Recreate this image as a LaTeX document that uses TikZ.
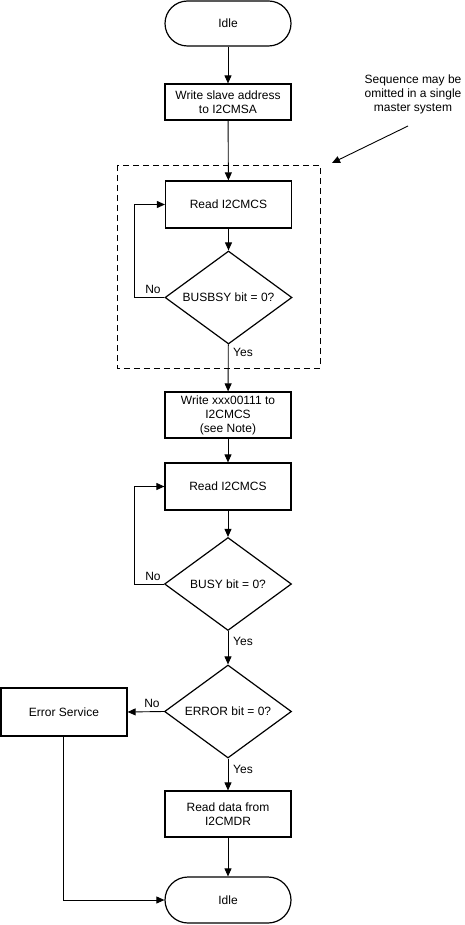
\documentclass[tikz,border=0pt]{standalone}
\usepackage{fontspec}
\setmainfont{Liberation Sans}
\usetikzlibrary{shapes.geometric,arrows.meta}
\begin{document}
\begin{tikzpicture}[x=1pt,y=1pt,
  font=\fontsize{12}{14}\selectfont,
  every node/.style={inner sep=0pt},
  procbox/.style={draw,line width=1.2pt,minimum width=126pt,minimum height=#1,align=center},
  procbox/.default=47pt,
  termbox/.style={draw,line width=1.2pt,rounded corners=22.5pt,minimum width=126pt,minimum height=45pt},
  decbox/.style={draw,line width=1.2pt,diamond,aspect=1.366,minimum width=127pt,minimum height=93pt},
  conn/.style={line width=0.9pt,-{Triangle[length=8pt,width=7pt]}},
  plainline/.style={line width=0.9pt},
  lbl/.style={inner sep=0pt}
]
\useasboundingbox (0,0) rectangle (464,-925);
\node[termbox] (idle1) at (228,-23.5) {Idle};
\node[procbox=36pt] (write1) at (228,-102) {Write slave address\\to I2CMSA};
\node[procbox] (read1) at (228.5,-204.5) {Read I2CMCS};
\node[decbox] (d1) at (228.5,-297.5) {BUSBSY bit = 0?};
\node[procbox=46pt] (write2) at (228,-415) {Write xxx00111 to\\I2CMCS\\(see Note)};
\node[procbox] (read2) at (228,-486.5) {Read I2CMCS};
\node[decbox] (d2) at (228,-584) {BUSY bit = 0?};
\node[decbox] (d3) at (228,-711.5) {ERROR bit = 0?};
\node[procbox=48pt] (err) at (64,-712) {Error Service};
\node[procbox=46pt] (rdata) at (228,-814) {Read data from\\I2CMDR};
\node[termbox,minimum height=46pt,rounded corners=23pt] (idle2) at (228,-900) {Idle};

\draw[dashed,line width=0.9pt,dash pattern=on 6pt off 4pt] (117,-165) rectangle (320,-368);
\node[align=center] (note) at (413,-94) {Sequence may be\\omitted in a single\\master system};
\coordinate (noteA) at (408,-126);
\coordinate (noteB) at (332,-163);
\draw[conn] (noteA) -- (noteB);

\draw[conn] (idle1) -- (write1);
\draw[conn] (write1) -- (read1);
\draw[conn] (read1) -- (d1);
\draw[conn] (d1) -- (write2);
\draw[conn] (write2) -- (read2);
\draw[conn] (read2) -- (d2);
\draw[conn] (d2) -- (d3);
\draw[conn] (d3) -- (rdata);
\draw[conn] (rdata) -- (idle2);
\draw[conn] (d3.west) -- (err.east);
\draw[conn] (d1.west) -- (134,-297.5) |- (read1.west);
\draw[conn] (d2.west) -- (134,-584) |- (read2.west);
\draw[conn] (err.south -| 63,0) |- (idle2.west);

\node[lbl] (no1) at (153,-289) {No};
\node[lbl] (no2) at (153,-576) {No};
\node[lbl] (no3) at (152,-703) {No};
\node[lbl] (yes1) at (243,-352) {Yes};
\node[lbl] (yes2) at (243,-641) {Yes};
\node[lbl] (yes3) at (243,-769) {Yes};
\end{tikzpicture}
\end{document}
